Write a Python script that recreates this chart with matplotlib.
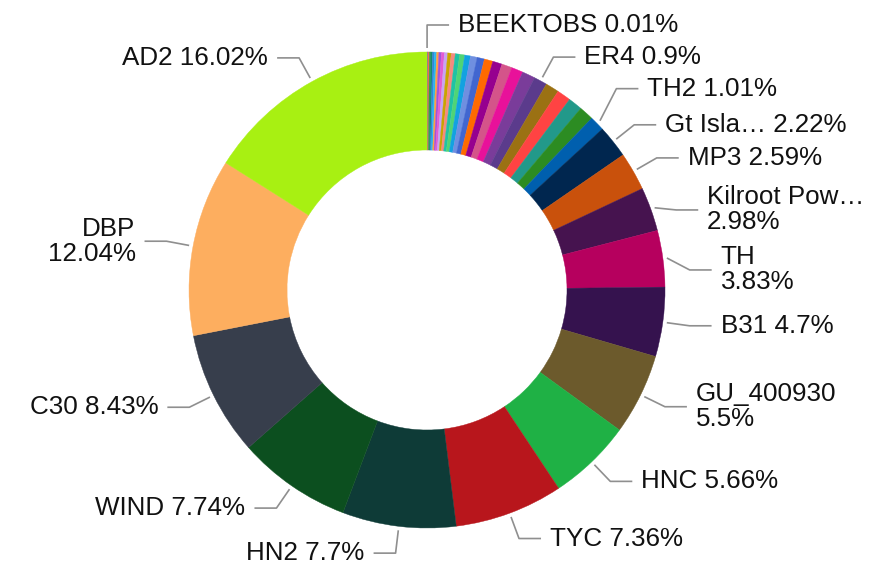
import numpy as np
import matplotlib; matplotlib.use("Agg"); import matplotlib.pyplot as plt

plt.rcParams["font.family"] = ["Liberation Sans", "DejaVu Sans"]

# slices in clockwise order from 12 o'clock (ascending); unnamed ones carry no visible label
small_vals = [0.06, 0.09, 0.10, 0.12, 0.13, 0.14, 0.15, 0.17, 0.20, 0.22, 0.24, 0.27,
              0.30, 0.34, 0.39, 0.45, 0.50, 0.58, 0.64, 0.70, 0.78, 0.88]
small_cols = ["#7a5cc8", "#ee6f4d", "#2f9e48", "#168a6a", "#2f86dc", "#29b8ee", "#ffa040", "#a452d8",
              "#e45ad4", "#c7a4f2", "#c9a400", "#f48a80", "#20c2a4", "#4fd476", "#12a2e0", "#6f8fe0",
              "#4166d0", "#ff6a00", "#96008f", "#d4548a", "#e8119a", "#7a3c9a"]
mid_vals = [0.92, 0.94, 0.96, 0.98]
mid_cols = ["#9b7113", "#ff4343", "#22998a", "#2c8c22"]
big_names = ["TH2", "Gt Isla…", "MP3", "Kilroot Pow…", "TH", "B31", "GU_400930", "HNC",
             "TYC", "HN2", "WIND", "C30", "DBP", "AD2"]
big_vals = [1.01, 2.22, 2.59, 2.98, 3.83, 4.7, 5.5, 5.66, 7.36, 7.7, 7.74, 8.43, 12.04, 16.02]
big_cols = ["#005fae", "#00264f", "#c9510c", "#46134f", "#b6005e", "#35124e", "#6c5a2c", "#1fb145",
            "#b8161c", "#0e3b37", "#0c4f1f", "#373e4c", "#fdae5f", "#a8f012"]

names = ["BEEKTOBS"] + [""] * len(small_vals) + ["ER4"] + [""] * len(mid_vals) + big_names
vals = [0.01] + small_vals + [0.9] + mid_vals + big_vals
cols = ["#a64ca6"] + small_cols + ["#5b3b8c"] + mid_cols + big_cols
two_line = {"Kilroot Pow…", "TH", "GU_400930", "DBP"}
y_nudge = {"TH2": 16, "Kilroot Pow…": -10, "TH": -15}

W, H = 876, 566
cx, cy, R = 427, 276, 238
fig = plt.figure(figsize=(W/100, H/100), dpi=100)
ax = fig.add_axes([0, 0, 1, 1])
wedges, _ = ax.pie(vals, colors=cols, startangle=90, counterclock=False, radius=R, center=(cx, cy),
                   wedgeprops=dict(width=98, linewidth=0.3))
for w in wedges: w.set_edgecolor(w.get_facecolor())
ax.set_xlim(0, W); ax.set_ylim(0, H); ax.set_aspect("equal"); ax.axis("off")

tot = sum(vals); cum = np.cumsum(vals)
for i, (n, v) in enumerate(zip(names, vals)):
    if not n: continue
    th = np.radians(360 * (cum[i] - v / 2) / tot)
    sx, sy = cx + (R + 4) * np.sin(th), cy + (R + 4) * np.cos(th)
    ex, ey = cx + 265 * np.sin(th), cy + 265 * np.cos(th) + y_nudge.get(n, 0)
    side = 1 if np.sin(th) >= 0 else -1
    al = "left" if side > 0 else "right"
    ax.plot([sx, ex, ex + side * 22], [sy, ey, ey], color="#8f8f8f", lw=1.2, solid_capstyle="butt")
    txt = f"{n}\n{v:g}%" if n in two_line else f"{n} {v:g}%"
    ax.text(ex + side * 31, ey, txt, ha=al, va="center", fontsize=18.7, color="#111111",
            linespacing=1.05, multialignment=al)

fig.savefig("out.png", dpi=100)
